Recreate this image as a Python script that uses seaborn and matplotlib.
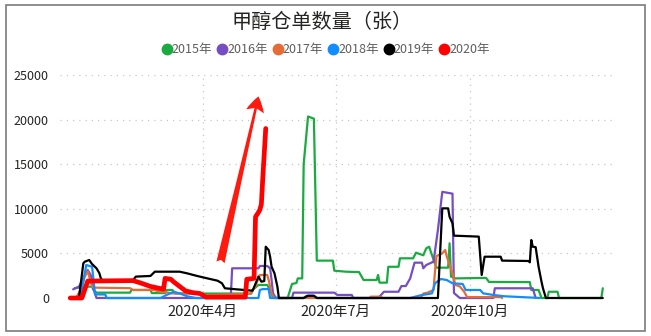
import matplotlib
matplotlib.use("Agg")
import matplotlib.dates as mdates
import matplotlib.pyplot as plt
import pandas as pd
import seaborn as sns
from matplotlib.lines import Line2D
from matplotlib.patches import Rectangle

# All years are laid on the 2020 calendar: day 0 = 1月1日.
START = pd.Timestamp("2020-01-01")

days_2015 = [3, 11, 15, 16, 18, 41, 42, 55, 56, 65, 66, 70, 72, 124, 125, 129, 135, 137, 139,
             149, 152, 155, 156, 159, 160, 163, 167, 169, 180, 181, 189, 198, 201, 210, 211,
             212, 217, 218, 225, 226, 235, 237, 242, 244, 246, 249, 251, 259, 260, 261, 264,
             285, 287, 315, 316, 321, 323, 327, 328, 334, 335, 364, 365]
vals_2015 = [1100, 1270, 1270, 900, 600, 600, 900, 900, 550, 550, 900, 900, 500, 500, 900, 1460,
             1460, 900, 0, 0, 1570, 1680, 2200, 2200, 15000, 20350, 20100, 4190, 4190, 3060,
             2950, 2900, 2020, 2020, 2580, 1720, 1720, 3500, 3500, 4450, 4450, 5080, 4790, 5570,
             5750, 4300, 3400, 3400, 6130, 2400, 2200, 2250, 1800, 1780, 900, 900, 0, 0, 700,
             700, 0, 0, 1090]

days_2016 = [2, 6, 10, 12, 14, 16, 18, 110, 111, 129, 130, 135, 137, 138, 139, 141, 152, 153,
             181, 183, 193, 194, 211, 213, 215, 225, 227, 230, 233, 236, 241, 242, 244, 249,
             252, 255, 262, 263, 267, 290, 291, 317, 319]
vals_2016 = [970, 1280, 2580, 3140, 2580, 1000, 0, 0, 3330, 3330, 3590, 3590, 3330, 2020, 520,
             0, 0, 600, 600, 340, 340, 0, 0, 340, 700, 700, 1340, 1340, 2200, 3960, 3960, 3330,
             3700, 4070, 7620, 11900, 11700, 560, 0, 0, 1090, 1090, 0]

days_2017 = [4, 7, 10, 12, 15, 17, 41, 43, 57, 62, 66, 69, 89, 93, 119, 124, 125, 127, 128, 130,
             135, 136, 138, 140, 205, 206, 213, 214, 240, 242, 245, 249, 250, 251, 255, 257,
             258, 262, 264, 267, 270, 272, 295, 296]
vals_2017 = [0, 900, 2400, 3000, 1270, 1160, 1100, 900, 900, 700, 640, 520, 500, 300, 450, 500,
             900, 1270, 1800, 2580, 2580, 2020, 520, 0, 0, 150, 150, 0, 0, 500, 600, 900, 3000,
             4700, 5010, 5380, 4700, 2770, 1460, 1300, 700, 100, 100, 0]

days_2018 = [7, 11, 15, 17, 24, 25, 62, 66, 71, 75, 80, 86, 129, 130, 132, 136, 137, 160, 162,
             167, 169, 233, 240, 248, 250, 254, 258, 262, 269, 271, 281, 283, 290, 297, 322]
vals_2018 = [0, 3700, 3500, 400, 400, 0, 0, 340, 700, 520, 200, 0, 0, 900, 1000, 1000, 0, 0,
             250, 250, 0, 0, 300, 520, 1650, 2130, 2020, 1650, 1570, 900, 900, 520, 340, 200, 0]

days_2019 = [0, 6, 9, 10, 13, 15, 18, 20, 21, 22, 43, 45, 55, 58, 75, 80, 87, 94, 101, 104,
             106, 112, 125, 129, 131, 133, 134, 136, 137, 138, 140, 142, 143, 160, 163, 167,
             169, 252, 255, 259, 260, 262, 263, 280, 282, 284, 295, 296, 314, 315, 316, 317,
             319, 321, 323, 324, 326, 365]
vals_2019 = [0, 0, 3900, 4070, 4260, 3800, 3330, 2770, 2200, 2000, 2000, 2400, 2470, 2950, 2950,
             2770, 2470, 2200, 1940, 1650, 1090, 1000, 820, 2400, 1830, 1900, 5750, 5380, 4630,
             3510, 2770, 1270, 0, 0, 250, 250, 0, 0, 10050, 10050, 9100, 8370, 6990, 6880, 2580,
             4630, 4630, 4190, 4150, 4000, 6500, 5750, 5700, 3500, 1830, 1090, 0, 0]

days_2020 = [0, 8, 12, 43, 48, 55, 62, 64, 65, 69, 71, 75, 79, 84, 89, 93, 120, 121, 126, 127,
             129, 130, 131, 132, 134]
vals_2020 = [0, 0, 1900, 1950, 1700, 1300, 1050, 1000, 2200, 2100, 1800, 1300, 800, 600, 500,
             100, 100, 2100, 2200, 9100, 9600, 9900, 10500, 13500, 19000]

YEARS = ["2015年", "2016年", "2017年", "2018年", "2019年", "2020年"]
COLORS = ["#1AAB40", "#744EC2", "#E66C37", "#118DFF", "#000000", "#FF0000"]
SERIES = [(days_2015, vals_2015), (days_2016, vals_2016), (days_2017, vals_2017),
          (days_2018, vals_2018), (days_2019, vals_2019), (days_2020, vals_2020)]

X_TICKS = ["2020-04-01", "2020-07-01", "2020-10-01"]
Y_TICKS = [0, 5000, 10000, 15000, 20000, 25000]

sns.set_theme(style="white")
plt.rcParams["font.family"] = ["Noto Sans CJK SC", "DejaVu Sans"]

W, H = 651, 336
fig = plt.figure(figsize=(W / 100, H / 100), dpi=100)
ax = fig.add_axes([60 / W, 1 - 298 / H, (613 - 60) / W, (298 - 75) / H])

for year, color, (days, vals) in zip(YEARS, COLORS, SERIES):
    df = pd.DataFrame({"date": START + pd.to_timedelta(days, unit="D"), "value": vals})
    sns.lineplot(data=df, x="date", y="value", ax=ax, color=color, estimator=None,
                 linewidth=3.4 if year == "2020年" else 1.6, legend=False)
for line in ax.lines:
    line.set_clip_on(False)

# the hand-drawn red arrow
ax.annotate("", xy=(mdates.date2num(START + pd.Timedelta(days=129)), 22600),
            xytext=(mdates.date2num(START + pd.Timedelta(days=103)), 4000),
            arrowprops=dict(arrowstyle="fancy,head_length=1.1,head_width=1.3,tail_width=0.6",
                            color="#FF1A10", mutation_scale=10, shrinkA=0, shrinkB=0, lw=0))

ax.set_xlim(mdates.date2num(pd.Timestamp("2019-12-25")), mdates.date2num(pd.Timestamp("2021-01-07")))
ax.set_ylim(0, 25000)
tick_dates = pd.to_datetime(X_TICKS)
ax.set_xticks(mdates.date2num(tick_dates))
ax.set_xticklabels([f"{d.year}年{d.month}月" for d in tick_dates], fontsize=10.5, color="#252423")
ax.set_yticks(Y_TICKS)
ax.set_yticklabels([str(v) for v in Y_TICKS], fontsize=9, color="#252423")
ax.tick_params(axis="x", length=0, pad=5)
ax.tick_params(axis="y", length=0, pad=8)
ax.set_xlabel("")
ax.set_ylabel("")
ax.grid(True, linestyle=(0, (1, 4)), color="#C8C6C4", linewidth=0.9)
sns.despine(ax=ax, left=True, bottom=True)

fig.text(322 / W, 1 - 22 / H, "甲醇仓单数量（张）", ha="center", va="center",
         fontsize=14.5, fontweight="light", color="#252423")

handles = [Line2D([], [], marker="o", linestyle="", markersize=7.5, markerfacecolor=c,
                  markeredgecolor=c) for c in COLORS]
fig.legend(handles, YEARS, loc="center", bbox_to_anchor=(325 / W, 1 - 50 / H), ncol=6,
           frameon=False, fontsize=9, labelcolor="#605E5C", handletextpad=-0.1,
           columnspacing=0.3, handlelength=1.0, borderaxespad=0)

fig.patches.append(Rectangle((6 / W, 1 - 331 / H), (645 - 6) / W, (331 - 5) / H,
                             transform=fig.transFigure, fill=False, edgecolor="#7A7A7A",
                             linewidth=1.2))

fig.savefig("out.png", dpi=100)
